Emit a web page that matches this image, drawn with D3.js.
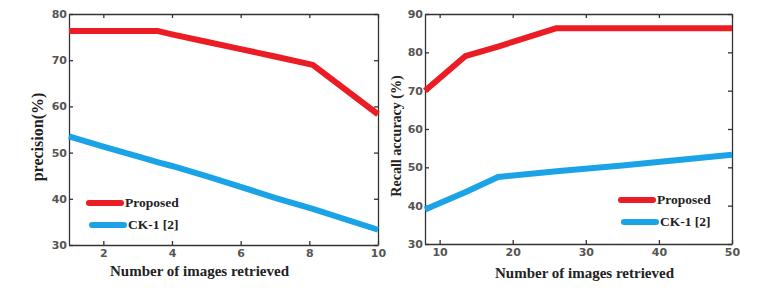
<!DOCTYPE html>
<html>
<head>
<meta charset="utf-8">
<script src="https://cdn.jsdelivr.net/npm/d3@7"></script>
<style>
body { margin: 0; background: #fff; }
svg { display: block; }
.tick text { font-family: "DejaVu Sans", sans-serif; font-weight: bold; font-size: 11px; fill: #555; }
.axis-label, .legend text { font-family: "Liberation Serif", serif; font-weight: bold; fill: #222; }
</style>
</head>
<body>
<div id="chart"></div>
<script>
// left panel: precision vs number of images
var precX = [1, 2, 3, 3.6, 4, 5, 6, 7, 8.1, 10];
var precProposed = [76.3, 76.3, 76.3, 76.3, 75.6, 74, 72.4, 70.8, 69, 58.3];
var precCK = [53.5, 51.3, 49.2, 47.9, 47.1, 44.9, 42.6, 40.2, 37.8, 33.3];
var precXTicks = [2, 4, 6, 8, 10];
var precYTicks = [30, 40, 50, 60, 70, 80];

// right panel: recall vs number of images
var recX = [8, 13.5, 18, 26, 35, 50];
var recProposed = [70, 79, 81.5, 86.3, 86.3, 86.3];
var recCK = [39, 43.5, 47.5, 49, 50.5, 53.3];
var recXTicks = [10, 20, 30, 40, 50];
var recYTicks = [30, 40, 50, 60, 70, 80, 90];

var seriesNames = ["Proposed", "CK-1 [2]"];
var seriesColors = ["#ec1c24", "#1aa3e6"];

var svg = d3.select("#chart").append("svg")
  .attr("width", 764)
  .attr("height", 302);

function panel(cfg) {
  var g = svg.append("g");
  var x = d3.scaleLinear().domain(cfg.xDomain).range([cfg.left, cfg.right]);
  var y = d3.scaleLinear().domain(cfg.yDomain).range([cfg.bottom, cfg.top]);

  // ticks on all four sides, pointing inward
  g.append("g").attr("transform", "translate(0," + cfg.bottom + ")")
    .call(d3.axisBottom(x).tickValues(cfg.xTicks).tickSizeInner(-4).tickSizeOuter(0).tickPadding(4));
  g.append("g").attr("transform", "translate(0," + cfg.top + ")")
    .call(d3.axisTop(x).tickValues(cfg.xTicks).tickSizeInner(-4).tickSizeOuter(0).tickFormat(""));
  g.append("g").attr("transform", "translate(" + cfg.left + ",0)")
    .call(d3.axisLeft(y).tickValues(cfg.yTicks).tickSizeInner(-4).tickSizeOuter(0).tickPadding(2));
  g.append("g").attr("transform", "translate(" + cfg.right + ",0)")
    .call(d3.axisRight(y).tickValues(cfg.yTicks).tickSizeInner(-4).tickSizeOuter(0).tickFormat(""));
  g.selectAll(".domain").attr("stroke", "#333").attr("stroke-width", 1.3);
  g.selectAll(".tick line").attr("stroke", "#333").attr("stroke-width", 1.3);

  var line = d3.line()
    .x(function(d) { return x(d[0]); })
    .y(function(d) { return y(d[1]); });

  cfg.series.forEach(function(s, i) {
    g.append("path")
      .datum(cfg.xs.map(function(v, j) { return [v, s[j]]; }))
      .attr("fill", "none")
      .attr("stroke", seriesColors[i])
      .attr("stroke-width", 6)
      .attr("stroke-linejoin", "round")
      .attr("d", line);
  });

  var lg = g.append("g").attr("class", "legend");
  seriesNames.forEach(function(name, i) {
    var ly = cfg.legendY + i * 22;
    lg.append("line")
      .attr("x1", cfg.legendX + (i ? 3 : 0)).attr("x2", cfg.legendX + 32 + (i ? 3 : 0))
      .attr("y1", ly).attr("y2", ly)
      .attr("stroke", seriesColors[i]).attr("stroke-width", 6)
      .attr("stroke-linecap", "round");
    lg.append("text")
      .attr("x", cfg.legendX + 36 + (i ? 3 : 0)).attr("y", ly + 4)
      .attr("font-size", 13.5)
      .text(name);
  });

  g.append("text").attr("class", "axis-label")
    .attr("x", (cfg.left + cfg.right) / 2 + cfg.xLabelShift).attr("y", cfg.bottom + cfg.xLabelDy)
    .attr("text-anchor", "middle").attr("font-size", 15)
    .text(cfg.xLabel);
  g.append("text").attr("class", "axis-label")
    .attr("transform", "translate(" + cfg.yLabelX + "," + cfg.yLabelY + ") rotate(-90)")
    .attr("text-anchor", "middle").attr("font-size", cfg.yLabelSize)
    .text(cfg.yLabel);
}

panel({
  left: 69, right: 378, top: 14, bottom: 245,
  xDomain: [1, 10], yDomain: [30, 80],
  xTicks: precXTicks, yTicks: precYTicks,
  xs: precX, series: [precProposed, precCK],
  legendX: 89, legendY: 203,
  xLabel: "Number of images retrieved", xLabelShift: -24, xLabelDy: 31,
  yLabel: "precision(%)", yLabelX: 43, yLabelY: 137, yLabelSize: 16
});

panel({
  left: 425, right: 732, top: 14, bottom: 244,
  xDomain: [8, 50], yDomain: [30, 90],
  xTicks: recXTicks, yTicks: recYTicks,
  xs: recX, series: [recProposed, recCK],
  legendX: 621, legendY: 200,
  xLabel: "Number of images retrieved", xLabelShift: 6, xLabelDy: 34,
  yLabel: "Recall accuracy (%)", yLabelX: 401, yLabelY: 136, yLabelSize: 14
});
</script>
</body>
</html>
